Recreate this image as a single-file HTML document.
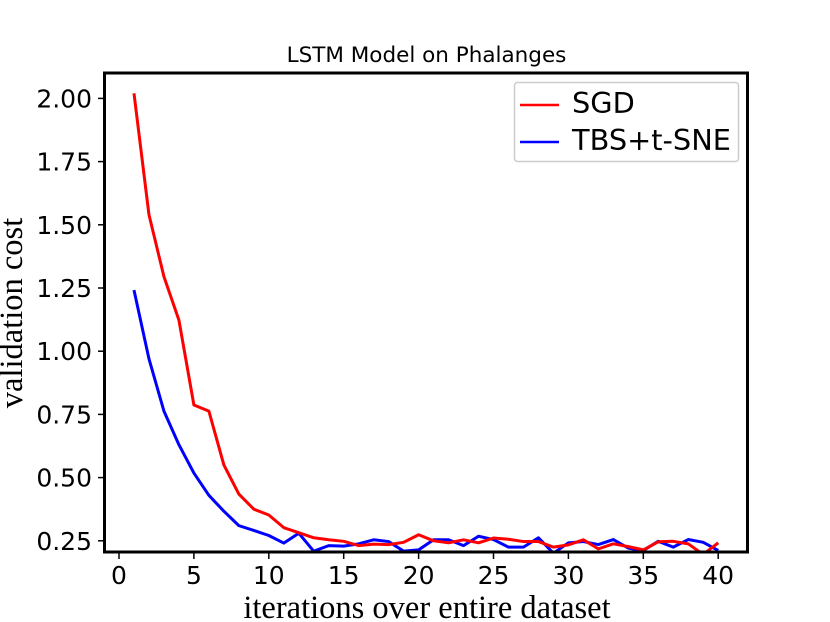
<!DOCTYPE html>
<html>
<head>
<meta charset="utf-8">
<title>LSTM Model on Phalanges</title>
<style>
html,body{margin:0;padding:0;background:#fff;width:830px;height:622px;overflow:hidden}
svg{display:block}
.tick{font-family:"DejaVu Sans","Liberation Sans",sans-serif;font-size:25px;fill:#000}
.serif{font-family:"Liberation Serif",serif;font-size:32.5px;fill:#000}
</style>
</head>
<body>
<svg id="chart" width="830" height="622" viewBox="0 0 830 622" xmlns="http://www.w3.org/2000/svg">
<defs><clipPath id="plot-clip"><rect x="104.5" y="73" width="643" height="479"></rect></clipPath></defs>
<text x="426.5" y="62" text-anchor="middle" style="font-family:'DejaVu Sans','Liberation Sans',sans-serif;font-size:21.5px;fill:#000">LSTM Model on Phalanges</text>
<text class="serif" x="427" y="618" text-anchor="middle">iterations over entire dataset</text>
<text class="serif" x="0" y="0" text-anchor="middle" transform="translate(22 313) rotate(-90)">validation cost</text>
<g id="x-ticks"></g>
<g id="y-ticks"></g>
<g id="series" clip-path="url(#plot-clip)"></g>
<rect x="104.5" y="73" width="643" height="479" fill="none" stroke="#000" stroke-width="3"></rect>
<g>
<rect x="514.5" y="82.5" width="224" height="79" rx="3" fill="#fff" fill-opacity="0.8" stroke="#ccc" stroke-width="1.5"></rect>
<line x1="520" x2="559" y1="105" y2="105" stroke="#f00" stroke-width="2.5"></line>
<text x="572" y="113" style="font-family:'DejaVu Sans','Liberation Sans',sans-serif;font-size:28.8px;fill:#000">SGD</text>
<line x1="520" x2="559" y1="142" y2="142" stroke="#00f" stroke-width="2.5"></line>
<text x="572" y="150" style="font-family:'DejaVu Sans','Liberation Sans',sans-serif;font-size:28.8px;fill:#000">TBS+t-SNE</text>
</g>
</svg>
<script>
const iterations = [1,2,3,4,5,6,7,8,9,10,11,12,13,14,15,16,17,18,19,20,21,22,23,24,25,26,27,28,29,30,31,32,33,34,35,36,37,38,39,40];
const sgdValues = [2.02,1.54,1.295,1.123,0.787,0.763,0.55,0.435,0.375,0.352,0.302,0.282,0.262,0.254,0.248,0.231,0.237,0.235,0.244,0.274,0.25,0.242,0.254,0.242,0.261,0.256,0.247,0.247,0.225,0.234,0.254,0.218,0.238,0.227,0.214,0.246,0.248,0.238,0.196,0.242];
const tbsValues = [1.242,0.97,0.763,0.63,0.518,0.43,0.367,0.31,0.291,0.271,0.241,0.28,0.209,0.231,0.229,0.238,0.254,0.247,0.209,0.214,0.254,0.254,0.231,0.268,0.255,0.225,0.225,0.262,0.201,0.242,0.247,0.235,0.255,0.221,0.212,0.248,0.225,0.255,0.244,0.212];
const xTickValues = [0,5,10,15,20,25,30,35,40];
const yTickValues = [0.25,0.5,0.75,1,1.25,1.5,1.75,2];

const NS = 'http://www.w3.org/2000/svg';
function xScale(v){ return 119 + 14.98 * v; }
function yScale(v){ return 98.4 + (2 - v) * 252.8; }

const xGroup = document.getElementById('x-ticks');
xTickValues.forEach(function(v){
  const t = document.createElementNS(NS, 'line');
  
  
  t.setAttribute('x1', xScale(v)); t.setAttribute('x2', xScale(v));
  t.setAttribute('y1', 552); t.setAttribute('y2', 559);
  t.setAttribute('stroke', '#000'); t.setAttribute('stroke-width', 1.5);
  xGroup.appendChild(t);
  const l = document.createElementNS(NS, 'text');
  
  
  l.setAttribute('class', 'tick');
  l.setAttribute('x', xScale(v)); l.setAttribute('y', 584);
  l.setAttribute('text-anchor', 'middle');
  l.textContent = String(v);
  xGroup.appendChild(l);
});

const yGroup = document.getElementById('y-ticks');
yTickValues.forEach(function(v){
  const t = document.createElementNS(NS, 'line');
  
  
  t.setAttribute('x1', 98); t.setAttribute('x2', 104.5);
  t.setAttribute('y1', yScale(v)); t.setAttribute('y2', yScale(v));
  t.setAttribute('stroke', '#000'); t.setAttribute('stroke-width', 1.5);
  yGroup.appendChild(t);
  const l = document.createElementNS(NS, 'text');
  
  
  l.setAttribute('class', 'tick');
  l.setAttribute('x', 92); l.setAttribute('y', yScale(v) + 9);
  l.setAttribute('text-anchor', 'end');
  l.textContent = v.toFixed(2);
  yGroup.appendChild(l);
});

const seriesGroup = document.getElementById('series');
function pointsOf(values){
  return values.map(function(v, i){ return xScale(iterations[i]) + ',' + yScale(v); }).join(' ');
}
const tbsLine = document.createElementNS(NS, 'polyline');


tbsLine.setAttribute('points', pointsOf(tbsValues));
tbsLine.setAttribute('fill', 'none');
tbsLine.setAttribute('stroke', '#00f');
tbsLine.setAttribute('stroke-width', 3);
tbsLine.setAttribute('stroke-linejoin', 'round');
seriesGroup.appendChild(tbsLine);
const sgdLine = document.createElementNS(NS, 'polyline');


sgdLine.setAttribute('points', pointsOf(sgdValues));
sgdLine.setAttribute('fill', 'none');
sgdLine.setAttribute('stroke', '#f00');
sgdLine.setAttribute('stroke-width', 3);
sgdLine.setAttribute('stroke-linejoin', 'round');
seriesGroup.appendChild(sgdLine);
</script>
</body>
</html>
